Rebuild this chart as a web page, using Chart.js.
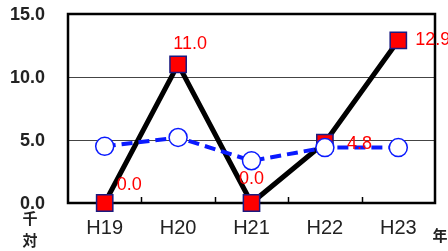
<!DOCTYPE html>
<html>
<head>
<meta charset="utf-8">
<script src="https://cdn.jsdelivr.net/npm/chart.js@4/dist/chart.umd.min.js"></script>
<style>
  html, body { margin: 0; padding: 0; background: #fff; }
  #wrap { width: 448px; height: 251px; position: relative; }
</style>
</head>
<body>
<div id="wrap"><canvas id="chart"></canvas></div>
<script>
// Chart data
const years = ['H19', 'H20', 'H21', 'H22', 'H23'];
const localRates = [0.0, 11.0, 0.0, 4.8, 12.9];
const averageRates = [4.5, 5.2, 3.35, 4.4, 4.4];
const yTicks = [0, 5, 10, 15];

// label offsets from each point (dx, dy) and alignment
const labelAlign = ['left', 'center', 'center', 'left', 'left'];
const labelDx = [12, 12, 0, 22, 17];
const labelDy = [-18, -20, -24, 2, 0];

// Frame, bottom tick marks, y tick labels, value labels and unit labels
const decorPlugin = {
    id: 'decor',
    beforeDatasetsDraw(chart) {
        const { ctx, chartArea: a, scales } = chart;
        ctx.save();
        ctx.strokeStyle = '#000';
        ctx.lineWidth = 1.5;
        for (let i = 0; i < years.length - 1; i++) {
            const x = Math.round((scales.x.getPixelForValue(i) + scales.x.getPixelForValue(i + 1)) / 2) + 0.5;
            ctx.beginPath();
            ctx.moveTo(x, a.bottom);
            ctx.lineTo(x, a.bottom - 6);
            ctx.stroke();
        }
        ctx.lineWidth = 2.5;
        ctx.strokeRect(a.left, a.top, a.right - a.left, a.bottom - a.top);

        // y tick labels drawn here so they don't pad the chart top
        ctx.fillStyle = '#222';
        ctx.font = 'bold 18px "Liberation Sans", Arial, sans-serif';
        ctx.textAlign = 'right';
        ctx.textBaseline = 'middle';
        yTicks.forEach(v => {
            ctx.fillText(v.toFixed(1), a.left - 23, scales.y.getPixelForValue(v) + 1);
        });
        ctx.restore();
    },
    afterDatasetsDraw(chart) {
        const { ctx } = chart;
        const meta = chart.getDatasetMeta(1);
        ctx.save();
        ctx.fillStyle = '#ff0000';
        ctx.font = '18px "Liberation Sans", Arial, sans-serif';
        ctx.textBaseline = 'middle';
        meta.data.forEach((pt, i) => {
            ctx.textAlign = labelAlign[i];
            ctx.fillText(localRates[i].toFixed(1), pt.x + labelDx[i], pt.y + labelDy[i]);
        });
        ctx.fillStyle = '#222';
        ctx.font = 'bold 15px "Noto Sans CJK JP", sans-serif';
        ctx.textAlign = 'center';
        ctx.fillText('千', 30, 218);
        ctx.fillText('対', 30, 240);
        ctx.fillText('年', 440, 235);
        ctx.restore();
    }
};

const chart = new Chart(document.getElementById('chart'), {
    type: 'line',
    data: {
        labels: years,
        datasets: [
            {
                label: '平均',
                data: averageRates,
                borderColor: '#0a1aff',
                borderWidth: 4,
                borderDash: [11, 6],
                pointStyle: 'circle',
                pointRadius: 9,
                pointBorderWidth: 1.5,
                pointBackgroundColor: '#fff',
                pointBorderColor: '#0a1aff',
                tension: 0,
                order: 1
            },
            {
                label: '対象',
                data: localRates,
                borderColor: '#000',
                borderWidth: 5,
                pointStyle: 'rect',
                pointRadius: 11.5,
                pointBorderWidth: 1.5,
                pointBackgroundColor: '#ff0000',
                pointBorderColor: '#1a1a80',
                tension: 0,
                order: 2
            }
        ]
    },
    options: {
        responsive: true,
        maintainAspectRatio: false,
        animation: false,
        clip: false,
        layout: { padding: { top: 14, right: 13, left: 0, bottom: 0 } },
        scales: {
            x: {
                offset: true,
                grid: { display: false },
                border: { display: false },
                ticks: {
                    color: '#222',
                    font: { family: '"Liberation Sans", Arial, sans-serif', size: 20 },
                    padding: 5
                },
                afterFit(scale) { scale.height = 48; }
            },
            y: {
                min: 0,
                max: 15,
                afterBuildTicks(scale) { scale.ticks = yTicks.map(v => ({ value: v })); },
                grid: { color: '#444', lineWidth: 1, drawTicks: false },
                border: { display: false },
                ticks: { display: false },
                afterFit(scale) { scale.width = 68; }
            }
        },
        plugins: {
            legend: { display: false },
            tooltip: { enabled: false }
        }
    },
    plugins: [decorPlugin]
});
</script>
</body>
</html>
